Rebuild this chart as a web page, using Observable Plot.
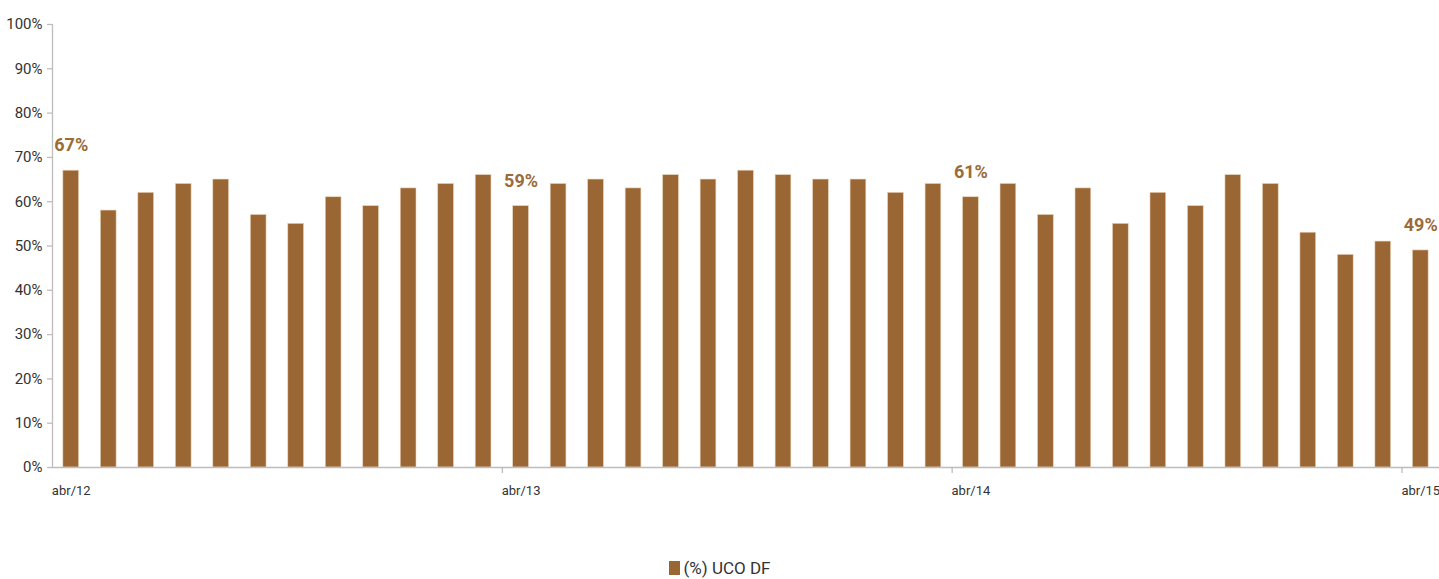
<!DOCTYPE html>
<html>
<head>
<meta charset="utf-8">
<script src="https://cdn.jsdelivr.net/npm/d3@7"></script>
<script src="https://cdn.jsdelivr.net/npm/@observablehq/plot@0.6"></script>
<style>
  html, body { margin: 0; padding: 0; background: #fff; }
  body { font-family: Roboto, "DejaVu Sans", sans-serif; }
  #legend { text-align: center; margin-top: 58px; font-size: 17px; color: #333; line-height: 20px; }
  #legend .sw { display: inline-block; width: 11px; height: 14px; background: #9a6634; vertical-align: -1px; margin-right: 4px; }
</style>
</head>
<body>
<div id="chart"></div>
<div id="legend"><span class="sw"></span>(%) UCO DF</div>
<script>
const categories = [
  "abr/12","mai/12","jun/12","jul/12","ago/12","set/12","out/12","nov/12","dez/12",
  "jan/13","fev/13","mar/13","abr/13","mai/13","jun/13","jul/13","ago/13","set/13","out/13","nov/13","dez/13",
  "jan/14","fev/14","mar/14","abr/14","mai/14","jun/14","jul/14","ago/14","set/14","out/14","nov/14","dez/14",
  "jan/15","fev/15","mar/15","abr/15"
];
const values = [67,58,62,64,65,57,55,61,59,63,64,66,59,64,65,63,66,65,67,66,65,65,62,64,61,64,57,63,55,62,59,66,64,53,48,51,49];
const labeledCategories = ["abr/12","abr/13","abr/14","abr/15"];
const yTicks = [0,10,20,30,40,50,60,70,80,90,100];

const data = categories.map((c, i) => ({cat: c, value: values[i]}));
const labeled = data.filter(d => labeledCategories.includes(d.cat));

const W = 1439, H = 500, mL = 52, mR = 0, mT = 24, mB = 33;
const step = (W - mL - mR) / categories.length;
const barColor = "#9a6634";
const axisColor = "#bdbdbd";
const fontFam = 'Roboto, "DejaVu Sans", sans-serif';

const chart = Plot.plot({
  width: W, height: H,
  marginLeft: mL, marginRight: mR, marginTop: mT, marginBottom: mB,
  style: {fontFamily: fontFam, background: "#fff", color: "#333"},
  x: {type: "band", domain: categories, paddingInner: 0.58, paddingOuter: 0.29, align: 0.5, round: false},
  y: {type: "linear", domain: [0, 100]},
  marks: [
    Plot.barY(data, {x: "cat", y: "value", fill: barColor, stroke: "#e8d2b8", strokeWidth: 0.6}),
    Plot.axisY({ticks: yTicks, tickFormat: d => d + "%", tickSize: 5, tickPadding: 5, fontSize: 15, stroke: axisColor, strokeWidth: 1.3, label: null}),
    Plot.axisX({ticks: labeledCategories, tickSize: 0, tickPadding: 18, fontSize: 13, label: null}),
    // y axis line at left edge of plot area
    Plot.ruleX([categories[0]], {dx: -step / 2, stroke: axisColor, strokeWidth: 1.3}),
    // x baseline
    Plot.ruleY([0], {stroke: axisColor, strokeWidth: 1.3}),
    // x tick marks at band boundaries every 12 months
    Plot.ruleX(labeledCategories.slice(1), {dx: -step / 2, y1: 0, y2: 0, insetBottom: -6, stroke: axisColor, strokeWidth: 1.3}),
    // value labels
    Plot.text(labeled, {x: "cat", y: "value", text: d => d.value + "%", dy: -25, fontSize: 18, fontWeight: "bold", fill: "#9b6b38"})
  ]
});
document.getElementById("chart").appendChild(chart);
</script>
</body>
</html>
